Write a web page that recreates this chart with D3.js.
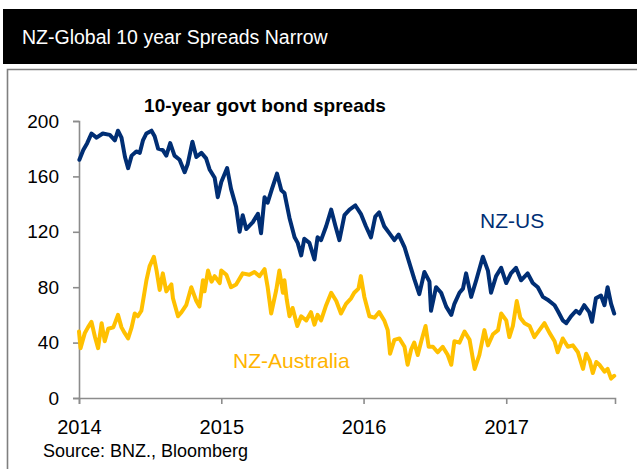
<!DOCTYPE html>
<html>
<head>
<meta charset="utf-8">
<script src="https://cdn.jsdelivr.net/npm/d3@7"></script>
<style>
  html, body { margin: 0; padding: 0; background: #fff; }
  svg { display: block; font-family: "Liberation Sans", Arial, sans-serif; }
</style>
</head>
<body>
<svg id="chart" width="637" height="469"></svg>
<script>
// 10-year government bond spreads, basis points
const nzUs = [
  ["2014-01-02",172],["2014-01-12",179],["2014-01-22",184],["2014-02-02",191],["2014-02-15",188],["2014-03-03",191],
  ["2014-03-21",190],["2014-04-03",186],["2014-04-11",193],["2014-04-20",188],["2014-04-29",174],["2014-05-07",166],
  ["2014-05-16",175],["2014-05-28",178],["2014-06-06",177],["2014-06-14",186],["2014-06-23",191],["2014-07-06",193],
  ["2014-07-14",189],["2014-07-23",180],["2014-08-04",179],["2014-08-13",175],["2014-08-23",184],["2014-09-03",175],
  ["2014-09-16",172],["2014-09-29",163],["2014-10-07",169],["2014-10-19",185],["2014-10-29",174],["2014-11-11",177],
  ["2014-11-23",173],["2014-12-02",165],["2014-12-15",159],["2014-12-23",145],["2015-01-01",156],["2015-01-16",166],
  ["2015-01-26",151],["2015-02-08",138],["2015-02-17",120],["2015-02-25",132],["2015-03-06",122],["2015-03-23",127],
  ["2015-04-05",133],["2015-04-13",119],["2015-04-22",145],["2015-04-30",141],["2015-05-11",151],["2015-05-24",162],
  ["2015-06-04",150],["2015-06-12",148],["2015-06-25",130],["2015-07-08",116],["2015-07-16",112],["2015-07-25",103],
  ["2015-08-02",115],["2015-08-15",112],["2015-08-28",100],["2015-09-05",116],["2015-09-14",114],["2015-09-27",124],
  ["2015-10-10",136],["2015-10-21",124],["2015-10-31",114],["2015-11-13",132],["2015-11-26",136],["2015-12-11",139],
  ["2015-12-25",133],["2016-01-07",124],["2016-01-20",116],["2016-01-31",131],["2016-02-10",134],["2016-02-23",124],
  ["2016-03-07",119],["2016-03-20",114],["2016-03-31",118],["2016-04-15",109],["2016-04-28",97],["2016-05-10",86],
  ["2016-05-23",75],["2016-06-05",91],["2016-06-18",84],["2016-06-22",63],["2016-07-05",80],["2016-07-18",76],
  ["2016-07-31",66],["2016-08-13",60],["2016-08-21",68],["2016-09-03",76],["2016-09-12",79],["2016-09-20",90],
  ["2016-10-03",73],["2016-10-16",85],["2016-11-02",102],["2016-11-15",92],["2016-11-23",76],["2016-12-06",88],
  ["2016-12-19",94],["2017-01-01",83],["2017-01-13",90],["2017-01-26",94],["2017-02-08",85],["2017-02-25",90],
  ["2017-03-10",83],["2017-03-23",80],["2017-04-05",73],["2017-04-17",71],["2017-05-05",67],["2017-05-13",63],
  ["2017-05-26",56],["2017-06-04",54],["2017-06-16",59],["2017-06-29",63],["2017-07-08",61],["2017-07-20",67],
  ["2017-08-02",62],["2017-08-09",55],["2017-08-19",72],["2017-09-01",74],["2017-09-10",67],["2017-09-18",80],
  ["2017-09-27",68],["2017-10-05",61]
];

const nzAu = [
  ["2014-01-01",48],["2014-01-05",36],["2014-01-16",47],["2014-01-24",51],["2014-02-02",55],["2014-02-11",44],
  ["2014-02-19",36],["2014-02-28",54],["2014-03-08",41],["2014-03-17",50],["2014-03-30",51],["2014-04-11",60],
  ["2014-04-20",51],["2014-04-28",47],["2014-05-07",43],["2014-05-16",51],["2014-05-24",61],["2014-06-01",59],
  ["2014-06-10",63],["2014-06-16",73],["2014-06-23",85],["2014-07-01",95],["2014-07-12",102],["2014-07-19",92],
  ["2014-07-27",78],["2014-08-04",90],["2014-08-13",77],["2014-08-26",82],["2014-08-30",72],["2014-09-12",59],
  ["2014-09-21",62],["2014-10-03",67],["2014-10-16",80],["2014-10-29",70],["2014-11-06",66],["2014-11-15",85],
  ["2014-11-19",77],["2014-11-28",92],["2014-12-07",84],["2014-12-15",88],["2014-12-28",83],["2015-01-01",92],
  ["2015-01-14",89],["2015-01-26",80],["2015-02-08",82],["2015-02-25",90],["2015-03-14",89],["2015-03-27",91],
  ["2015-04-09",88],["2015-04-22",93],["2015-04-30",80],["2015-05-09",61],["2015-05-22",78],["2015-05-30",92],
  ["2015-06-08",76],["2015-06-12",85],["2015-06-18",71],["2015-06-25",59],["2015-07-03",65],["2015-07-15",52],
  ["2015-07-25",59],["2015-08-07",56],["2015-08-19",62],["2015-08-28",53],["2015-09-05",60],["2015-09-14",56],
  ["2015-09-27",67],["2015-10-10",76],["2015-10-23",70],["2015-11-04",61],["2015-11-17",68],["2015-11-30",72],
  ["2015-12-08",76],["2015-12-19",79],["2015-12-25",88],["2016-01-03",73],["2016-01-16",59],["2016-01-29",58],
  ["2016-02-10",62],["2016-02-23",56],["2016-03-03",49],["2016-03-09",32],["2016-03-20",42],["2016-04-02",43],
  ["2016-04-15",37],["2016-04-23",24],["2016-05-02",35],["2016-05-10",40],["2016-05-19",31],["2016-05-28",41],
  ["2016-06-08",52],["2016-06-16",37],["2016-06-27",37],["2016-07-09",33],["2016-07-22",37],["2016-08-04",31],
  ["2016-08-13",24],["2016-08-21",41],["2016-09-03",40],["2016-09-16",48],["2016-09-29",42],["2016-10-07",29],
  ["2016-10-12",21],["2016-10-24",31],["2016-11-06",49],["2016-11-15",38],["2016-11-28",46],["2016-12-11",49],
  ["2016-12-19",61],["2017-01-01",56],["2017-01-09",44],["2017-01-18",52],["2017-01-28",70],["2017-02-06",58],
  ["2017-02-17",54],["2017-03-02",52],["2017-03-14",44],["2017-03-27",49],["2017-04-09",54],["2017-04-22",47],
  ["2017-05-05",41],["2017-05-13",33],["2017-05-26",43],["2017-06-08",37],["2017-06-21",38],["2017-07-04",33],
  ["2017-07-17",21],["2017-07-25",32],["2017-08-03",27],["2017-08-11",18],["2017-08-20",26],["2017-08-28",24],
  ["2017-09-10",19],["2017-09-18",21],["2017-09-27",14],["2017-10-05",16]
];

const yTicks = [0, 40, 80, 120, 160, 200];
const yearTicks = ["2014-01-01", "2015-01-01", "2016-01-01", "2017-01-01"];
const xDomain = ["2014-01-01", "2017-10-07"];

const parse = d3.timeParse("%Y-%m-%d");
const svg = d3.select("#chart");

// header bar
svg.append("rect").attr("x", 3).attr("y", 9).attr("width", 634).attr("height", 55).attr("fill", "#000");
svg.append("text").attr("x", 22).attr("y", 44)
  .attr("fill", "#fff").attr("font-size", 19.5)
  .text("NZ-Global 10 year Spreads Narrow");

// panel frame
svg.append("path").attr("d", "M7.5,469V69.5H637")
  .attr("fill", "none").attr("stroke", "#7f7f7f").attr("stroke-width", 1.6);

// scales
const x = d3.scaleTime().domain(xDomain.map(parse)).range([79, 615]);
const y = d3.scaleLinear().domain([0, 200]).range([398, 121]);

const axisColor = "#8c8c8c";

// y axis
const yAxis = svg.append("g").attr("transform", "translate(79,0)")
  .call(d3.axisLeft(y).tickValues(yTicks).tickSize(6).tickPadding(14).tickFormat(d3.format("d")));
// x axis
const xAxis = svg.append("g").attr("transform", "translate(0,398)")
  .call(d3.axisBottom(x).tickValues(yearTicks.map(parse)).tickSize(6).tickPadding(16).tickFormat(d3.timeFormat("%Y")));

[yAxis, xAxis].forEach(g => {
  g.select(".domain").attr("stroke", axisColor).attr("stroke-width", 1.6);
  g.selectAll(".tick line").attr("stroke", axisColor).attr("stroke-width", 1.6);
  g.selectAll(".tick text").attr("fill", "#000")
    .attr("font-family", "Liberation Sans, Arial, sans-serif");
});
yAxis.selectAll(".tick text").attr("font-size", 19);
xAxis.selectAll(".tick text").attr("font-size", 20);

// series lines
const line = d3.line().x(d => x(parse(d[0]))).y(d => y(d[1]));

svg.append("path").datum(nzAu).attr("d", line)
  .attr("fill", "none").attr("stroke", "#FFC000").attr("stroke-width", 4)
  .attr("stroke-linejoin", "round").attr("stroke-linecap", "round");

svg.append("path").datum(nzUs).attr("d", line)
  .attr("fill", "none").attr("stroke", "#002E74").attr("stroke-width", 4)
  .attr("stroke-linejoin", "round").attr("stroke-linecap", "round");

// titles and labels
svg.append("text").attr("x", 265).attr("y", 112).attr("text-anchor", "middle")
  .attr("font-size", 19).attr("font-weight", "bold").attr("fill", "#000")
  .text("10-year govt bond spreads");

svg.append("text").attr("x", 480).attr("y", 228)
  .attr("font-size", 21).attr("fill", "#002E74").text("NZ-US");

svg.append("text").attr("x", 233).attr("y", 368)
  .attr("font-size", 21).attr("fill", "#FFB400").text("NZ-Australia");

svg.append("text").attr("x", 43).attr("y", 457)
  .attr("font-size", 18).attr("fill", "#000").text("Source: BNZ., Bloomberg");
</script>
</body>
</html>
